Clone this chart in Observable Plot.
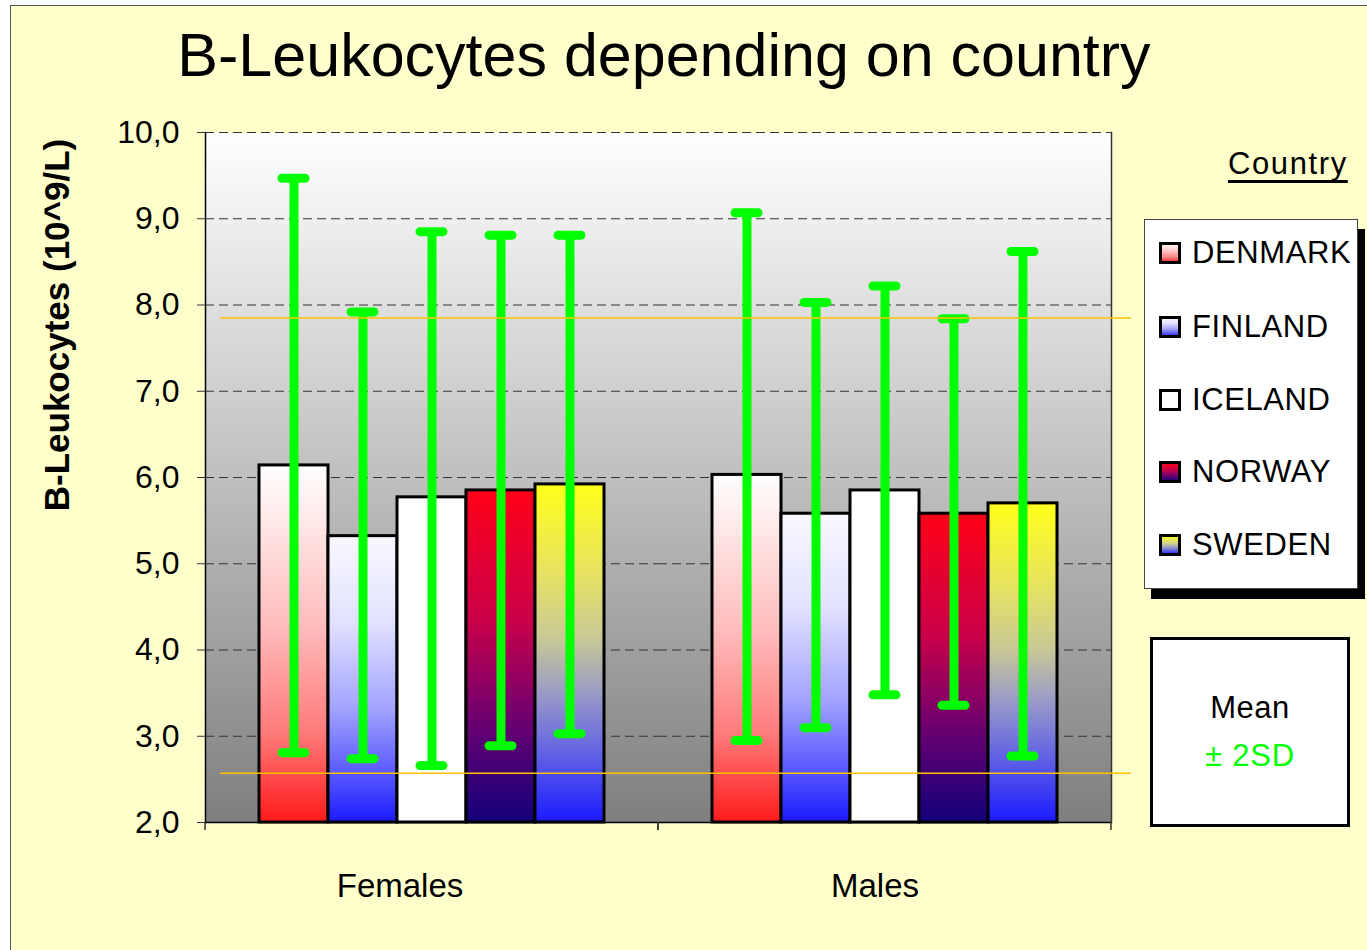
<!DOCTYPE html>
<html>
<head>
<meta charset="utf-8">
<script src="https://cdn.jsdelivr.net/npm/d3@7"></script>
<script src="https://cdn.jsdelivr.net/npm/@observablehq/plot@0.6"></script>
<style>
  html, body { margin: 0; padding: 0; background: #ffffff; }
  body { width: 1367px; height: 950px; position: relative; overflow: hidden; font-family: "Liberation Sans", Arial, sans-serif; color: #000; }
  #page { position: absolute; left: 10px; top: 5px; width: 1400px; height: 1000px; background: #FFFFCC; border: 1px solid #555; }
  #chart { position: absolute; left: 0; top: 0; }
  #title { position: absolute; left: 0; top: 25px; width: 1328px; text-align: center; font-size: 61px; line-height: 60px; white-space: nowrap; }
  #ytitle { position: absolute; left: 56px; top: 325px; transform: translate(-50%, -50%) rotate(-90deg); font-weight: bold; font-size: 35px; white-space: nowrap; line-height: 35px; }
  #legtitle { position: absolute; left: 1228px; top: 144px; font-size: 31px; line-height: 40px; letter-spacing: 1.6px; text-decoration: underline; text-decoration-thickness: 3px; text-underline-offset: 6px; white-space: nowrap; }
  #legend { position: absolute; left: 1144px; top: 219px; width: 212px; height: 368px; background: #fff; border: 1px solid #444; box-shadow: 7px 10px 0 #000; }
  .item { position: absolute; left: 14px; height: 40px; display: flex; align-items: center; font-size: 31px; letter-spacing: 0.6px; white-space: nowrap; }
  .item svg { margin-right: 11px; }
  #meanbox { position: absolute; left: 1150px; top: 637px; width: 194px; height: 184px; background: #fff; border: 3px solid #000; text-align: center; font-size: 31px; }
  #meanbox .m { position: absolute; left: 0; width: 100%; top: 48px; line-height: 40px; letter-spacing: 0.5px; }
  #meanbox .s { position: absolute; left: 0; width: 100%; top: 96px; line-height: 40px; color: #00FF00; letter-spacing: 0.8px; }
</style>
</head>
<body>
<svg width="0" height="0" style="position:absolute">
  <defs>
    <linearGradient id="bgGrad" x1="0" y1="0" x2="0" y2="1">
      <stop offset="0" stop-color="#FFFFFF"/>
      <stop offset="1" stop-color="#7F7F7F"/>
    </linearGradient>
    <linearGradient id="gDEN" x1="0" y1="0" x2="0" y2="1">
      <stop offset="0" stop-color="#FFFFFF"/>
      <stop offset="0.45" stop-color="#FFBCBC"/>
      <stop offset="0.75" stop-color="#FF7A7A"/>
      <stop offset="1" stop-color="#FF1A1A"/>
    </linearGradient>
    <linearGradient id="gFIN" x1="0" y1="0" x2="0" y2="1">
      <stop offset="0" stop-color="#F8F8FF"/>
      <stop offset="0.3" stop-color="#E2E2FF"/>
      <stop offset="0.6" stop-color="#A4A4FF"/>
      <stop offset="0.85" stop-color="#5252FF"/>
      <stop offset="1" stop-color="#1A1AFF"/>
    </linearGradient>
    <linearGradient id="gICE" x1="0" y1="0" x2="0" y2="1">
      <stop offset="0" stop-color="#FFFFFF"/>
      <stop offset="1" stop-color="#FFFFFF"/>
    </linearGradient>
    <linearGradient id="gNOR" x1="0" y1="0" x2="0" y2="1">
      <stop offset="0" stop-color="#FF0018"/>
      <stop offset="0.4" stop-color="#C8004A"/>
      <stop offset="0.7" stop-color="#6A0070"/>
      <stop offset="1" stop-color="#12007A"/>
    </linearGradient>
    <linearGradient id="gSWE" x1="0" y1="0" x2="0" y2="1">
      <stop offset="0" stop-color="#FFFF1A"/>
      <stop offset="0.25" stop-color="#E8E45E"/>
      <stop offset="0.45" stop-color="#CACA94"/>
      <stop offset="0.62" stop-color="#9A9AC8"/>
      <stop offset="0.82" stop-color="#5A5AE8"/>
      <stop offset="1" stop-color="#1A1AFF"/>
    </linearGradient>
  </defs>
</svg>
<div id="page"></div>
<div id="chart"></div>
<div id="title">B-Leukocytes depending on country</div>
<div id="ytitle">B-Leukocytes (10^9/L)</div>
<div id="legtitle">Country</div>
<div id="legend"></div>
<div id="meanbox"><div class="m">Mean</div><div class="s">± 2SD</div></div>
<script>
// ---- data ----
const groups = ["Females", "Males"];
const countries = ["DENMARK", "FINLAND", "ICELAND", "NORWAY", "SWEDEN"];
const countryFills = ["url(#gDEN)", "url(#gFIN)", "url(#gICE)", "url(#gNOR)", "url(#gSWE)"];
const femaleMean = [6.14, 5.32, 5.77, 5.85, 5.92];
const femaleLow  = [2.81, 2.74, 2.66, 2.89, 3.03];
const femaleHigh = [9.47, 7.92, 8.85, 8.81, 8.81];
const maleMean = [6.03, 5.58, 5.85, 5.58, 5.70];
const maleLow  = [2.95, 3.10, 3.48, 3.36, 2.77];
const maleHigh = [9.07, 8.03, 8.22, 7.84, 8.62];
const refLines = [7.85, 2.57];
const yTicks = [2, 3, 4, 5, 6, 7, 8, 9, 10];

const means = [femaleMean, maleMean];
const lows = [femaleLow, maleLow];
const highs = [femaleHigh, maleHigh];
const rows = [];
groups.forEach((g, gi) => countries.forEach((c, ci) => rows.push({
  group: g, country: c, mean: means[gi][ci], low: lows[gi][ci], high: highs[gi][ci]
})));
const refFemales = refLines.map(v => ({group: "Females", v}));
const refMales = refLines.map(v => ({group: "Males", v}));

function edgeTicks(index, scales, values, dimensions) {
  const {width, height, marginLeft, marginRight, marginBottom} = dimensions;
  const yb = height - marginBottom;
  const g = d3.create("svg:g").attr("stroke", "#333").attr("stroke-width", 1.5);
  for (const x of [marginLeft, width - marginRight]) {
    g.append("line").attr("x1", x).attr("x2", x).attr("y1", yb).attr("y2", yb + 8);
  }
  return g.node();
}

const chart = Plot.plot({
  width: 1140,
  height: 930,
  marginLeft: 205,
  marginRight: 29,
  marginTop: 132,
  marginBottom: 108,
  style: {background: "transparent", fontFamily: "'Liberation Sans', Arial, sans-serif", color: "#000", overflow: "visible"},
  fx: {domain: groups, paddingInner: 0, paddingOuter: 0, label: null, axis: null},
  x: {domain: countries, paddingInner: 0, paddingOuter: 0.75, axis: null},
  y: {domain: [2, 10], label: null},
  color: {type: "ordinal", domain: countries, range: countryFills},
  marks: [
    Plot.frame({fill: "url(#bgGrad)", stroke: "none", shapeRendering: "crispEdges"}),
    Plot.gridY(yTicks, {stroke: "#333", strokeOpacity: 1, strokeWidth: 1, strokeDasharray: "9,5"}),
    Plot.frame({anchor: "left", facetAnchor: "left", stroke: "#000", strokeWidth: 1.5}),
    Plot.frame({anchor: "right", facetAnchor: "right", stroke: "#333", strokeWidth: 1.5}),
    Plot.ruleY([2], {stroke: "#000", strokeWidth: 1.5}),
    edgeTicks,
    Plot.axisY(yTicks, {tickSize: 8, tickPadding: 18, fontSize: 32, stroke: "#333",
      tickFormat: d => d.toFixed(1).replace(".", ","), label: null}),
    Plot.text([groups[0]], {fx: d => d, text: d => d, frameAnchor: "bottom", lineAnchor: "top",
      dy: 51, dx: -32, fontSize: 33}),
    Plot.text([groups[1]], {fx: d => d, text: d => d, frameAnchor: "bottom", lineAnchor: "top",
      dy: 51, dx: -10, fontSize: 33}),
    Plot.barY(rows, {fx: "group", x: "country", y1: 2, y2: "mean", fill: "country",
      stroke: "#000", strokeWidth: 3, inset: 0}),
    Plot.ruleX(rows, {fx: "group", x: "country", y1: "low", y2: "high", stroke: "#00FF00", strokeWidth: 9}),
    Plot.tickY(rows, {fx: "group", x: "country", y: "high", stroke: "#00FF00", strokeWidth: 9, strokeLinecap: "round", inset: 23}),
    Plot.tickY(rows, {fx: "group", x: "country", y: "low", stroke: "#00FF00", strokeWidth: 9, strokeLinecap: "round", inset: 23}),
    Plot.ruleY(refFemales, {fx: "group", y: "v", stroke: "#FFC000", strokeWidth: 1.5, insetLeft: 15}),
    Plot.ruleY(refMales, {fx: "group", y: "v", stroke: "#FFC000", strokeWidth: 1.5, insetRight: -20})
  ]
});
document.getElementById("chart").appendChild(chart);

// legend
const legend = document.getElementById("legend");
const itemTops = [13, 87, 160, 232, 305];
countries.forEach((c, i) => {
  const div = document.createElement("div");
  div.className = "item";
  div.style.top = itemTops[i] + "px";
  div.innerHTML = `<svg width="22" height="22"><rect x="1.5" y="1.5" width="19" height="19" fill="${countryFills[i]}" stroke="#000" stroke-width="3"/></svg><span>${c}</span>`;
  legend.appendChild(div);
});
</script>
</body>
</html>
